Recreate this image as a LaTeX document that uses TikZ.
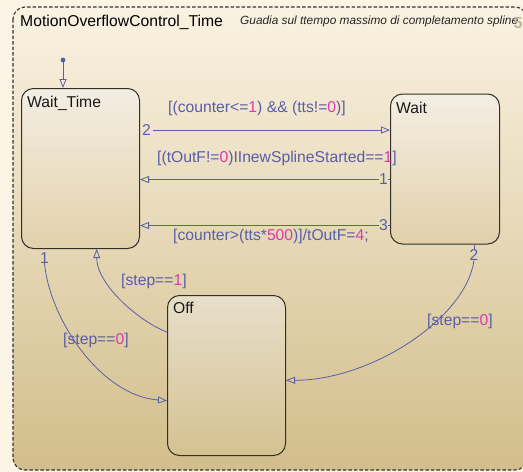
\documentclass[tikz,border=0pt]{standalone}
\usepackage{fontspec}
\setmainfont{Liberation Sans}
\usetikzlibrary{arrows.meta,calc}
\definecolor{bgc}{RGB}{252,245,230}
\definecolor{outtop}{RGB}{250,242,226}
\definecolor{outbot}{RGB}{210,190,139}
\definecolor{sttop}{RGB}{244,238,227}
\definecolor{stbot}{RGB}{226,208,170}
\definecolor{offtop}{RGB}{232,223,203}
\definecolor{offbot}{RGB}{213,194,146}
\definecolor{trc}{RGB}{90,94,166}
\definecolor{numc}{RGB}{214,60,172}
\definecolor{stborder}{RGB}{50,48,40}
\definecolor{grayfive}{RGB}{190,180,160}
\newcommand{\nm}[1]{\textcolor{numc}{#1}}
\tikzset{
  state/.style={draw=stborder, line width=1pt, rounded corners=12pt, top color=sttop, bottom color=stbot, anchor=north west, inner sep=0pt},
  stlabel/.style={font=\fontsize{15.7}{18}\selectfont, text=black!90, anchor=base west, inner sep=0pt},
  trans/.style={draw=trc, line width=0.8pt, -{Triangle[open,length=9pt,width=7pt]}},
  tline/.style={draw=trc, line width=0.8pt},
  tlabel/.style={font=\fontsize{15.7}{18}\selectfont, text=trc, anchor=base west, inner sep=0pt},
  num/.style={font=\fontsize{15.7}{18}\selectfont, text=trc, inner sep=0pt},
}
\begin{document}
\begin{tikzpicture}[x=1pt,y=-1pt]
\useasboundingbox (0,0) rectangle (523,472);
\clip (0,0) rectangle (523,472);
\fill[bgc] (0,0) rectangle (523,472);
\shade[top color=outtop, bottom color=outbot, rounded corners=12pt] (13,7) rectangle (527,470);
\draw[draw=black!80, line width=1.1pt, dash pattern=on 3.5pt off 2pt, rounded corners=12pt] (13,7) rectangle (527,470);
\node[font=\fontsize{15.7}{18}\selectfont, anchor=base west, inner sep=0pt] (title) at (20,26) {MotionOverflowControl\_Time};
\node[font=\fontsize{11.85}{14}\selectfont\itshape, anchor=base west, inner sep=0pt, text=black!85] (comment) at (240,24.5) {Guadia sul ttempo massimo di completamento spline};
\node[font=\fontsize{16}{18}\selectfont\bfseries, anchor=base west, inner sep=0pt, text=grayfive] (five) at (513.5,28) {5};
% states
\node[state, minimum width=118pt, minimum height=160pt] (wt) at (21,88) {};
\node[stlabel] (wtl) at (27,107) {Wait\_Time};
\node[state, minimum width=109pt, minimum height=150pt] (wait) at (390,93.5) {};
\node[stlabel] (waitl) at (396,113) {Wait};
\node[state, top color=offtop, bottom color=offbot, minimum width=118pt, minimum height=160pt] (off) at (167,295) {};
\node[stlabel] (offl) at (173,313) {Off};
% initial transition
\fill[trc] (63,60) circle (2.4pt) coordinate (init);
\draw[trans] (init) -- (init |- wt.north);
% Wait_Time -> Wait
\node[num, anchor=west] (n2) at (142,130) {2};
\draw[trans] (n2.east) ++(2,0) -- (n2.east -| wait.west);
\node[tlabel] (l1) at (168,112) {[(counter<=\nm{1}) \&\& (tts!=\nm{0})]};
% Wait -> Wait_Time (1)
\node[num, anchor=east] (n1) at (388,179.5) {1};
\draw[trans] (n1.west) -- (n1.west -| wt.east);
\draw[tline] (n1.east) -- (n1.east -| wait.west);
\node[tlabel] (l2) at (157,162) {[(tOutF!=\nm{0})IInewSplineStarted==\nm{1}]};
% Wait -> Wait_Time (3)
\node[num, anchor=east] (n3) at (388,225.5) {3};
\draw[trans] (n3.west) -- (n3.west -| wt.east);
\draw[tline] (n3.east) -- (n3.east -| wait.west);
\node[tlabel] (l3) at (173,240) {[counter>(tts*\nm{500})]/tOutF=\nm{4};};
% Wait_Time -> Off
\node[num, anchor=north] (n4) at (44.5,252) {1};
\draw[trans] (n4.south) .. controls +(5,55) and +(-67,-5) .. ($(off.north west)!0.656!(off.south west)$);
\node[tlabel] (l4) at (63,344) {[step==\nm{0}]};
% Off -> Wait_Time
\draw[trans] ($(off.north west)!0.23!(off.south west)$) .. controls +(-27,-10) and +(0,36) .. ($(wt.south west)!0.636!(wt.south east)$);
\node[tlabel] (l5) at (121,285) {[step==\nm{1}]};
% Wait -> Off
\node[num, anchor=north] (n6) at (474,249) {2};
\draw[tline] (n6.north) -- (n6.north |- wait.south);
\draw[trans] (n6.south) .. controls +(-8,58) and +(85,0) .. ($(off.north east)!0.53!(off.south east)$);
\node[tlabel] (l6) at (427,325) {[step==\nm{0}]};
\end{tikzpicture}
\end{document}
